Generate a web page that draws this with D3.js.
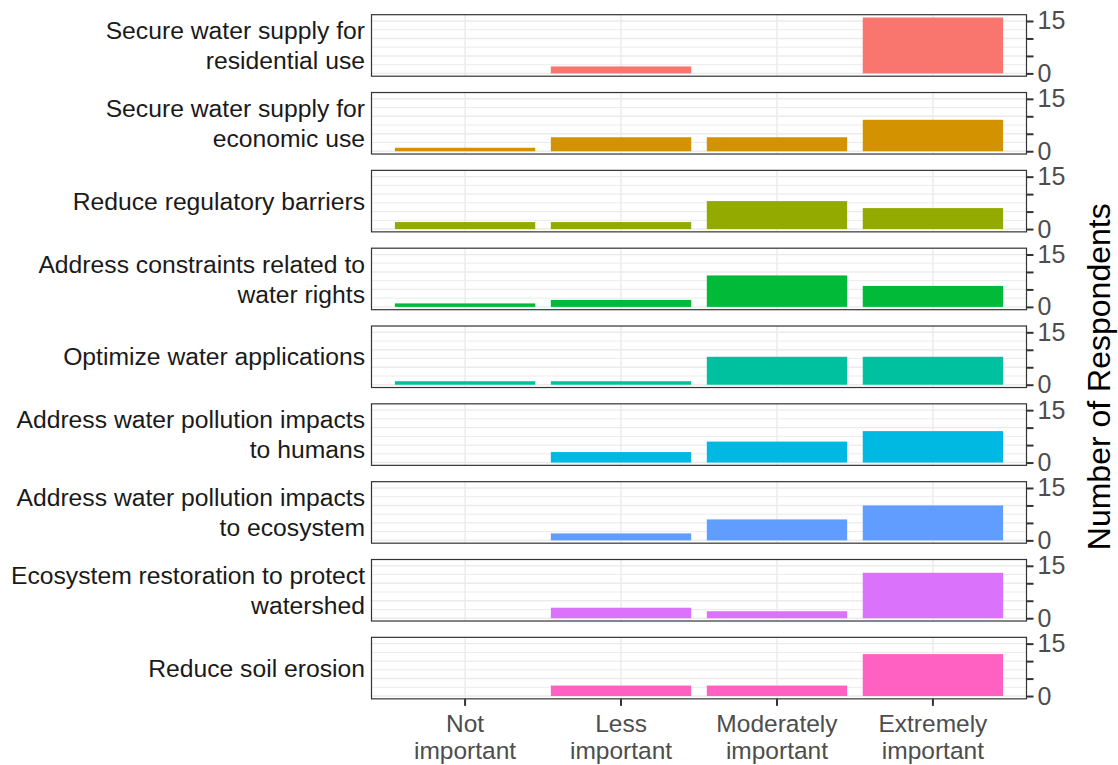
<!DOCTYPE html>
<html>
<head>
<meta charset="utf-8">
<script src="https://cdn.jsdelivr.net/npm/d3@7"></script>
<style>
  html, body { margin: 0; padding: 0; background: #fff; }
  svg { display: block; font-family: "Liberation Sans", Arial, Helvetica, sans-serif; }
</style>
</head>
<body>
<svg id="chart" width="1118" height="765"></svg>
<script>
// ---------- data ----------
const categories = ["Not important", "Less important", "Moderately important", "Extremely important"];
const categoryLabels = [["Not", "important"], ["Less", "important"], ["Moderately", "important"], ["Extremely", "important"]];
const facetLabels = [
  ["Secure water supply for", "residential use"],
  ["Secure water supply for", "economic use"],
  ["Reduce regulatory barriers"],
  ["Address constraints related to", "water rights"],
  ["Optimize water applications"],
  ["Address water pollution impacts", "to humans"],
  ["Address water pollution impacts", "to ecosystem"],
  ["Ecosystem restoration to protect", "watershed"],
  ["Reduce soil erosion"]
];
const residentialUse   = [0, 2, 0, 16];
const economicUse      = [1, 4, 4, 9];
const regulatory       = [2, 2, 8, 6];
const waterRights      = [1, 2, 9, 6];
const optimizeApps     = [1, 1, 8, 8];
const pollutionHumans  = [0, 3, 6, 9];
const pollutionEco     = [0, 2, 6, 10];
const restoration      = [0, 3, 2, 13];
const soilErosion      = [0, 3, 3, 12];
const seriesValues = [residentialUse, economicUse, regulatory, waterRights, optimizeApps,
                      pollutionHumans, pollutionEco, restoration, soilErosion];
const facetColors = ["#F8766D", "#D39200", "#93AA00", "#00BA38", "#00C19F", "#00B9E3", "#619CFF", "#DB72FB", "#FF61C3"];
const yTickValues = [0, 5, 10, 15];
const yTickLabels = ["0", "", "", "15"];
const yMinorValues = [2.5, 7.5, 12.5];
const yTitle = "Number of Respondents";

// ---------- layout ----------
const svg = d3.select("#chart");
const panelLeft = 371.5, panelRight = 1026.5;
const firstTop = 14.7, pitch = 77.83, panelH = 61.5;
const stripFont = 24.7, axisFont = 25, xLabelFont = 24.5, titleFont = 32;

const x = d3.scaleBand().domain(categories).range([panelLeft, panelRight])
  .paddingInner(0.1).paddingOuter(0.15);
const yMax = d3.max(seriesValues.flat());
const yDomain = [-0.05 * yMax, 1.05 * yMax];

seriesValues.forEach((vals, i) => {
  const top = firstTop + i * pitch;
  const bottom = top + panelH;
  const y = d3.scaleLinear().domain(yDomain).range([bottom, top]);
  const g = svg.append("g");

  // panel background
  g.append("rect").attr("x", panelLeft).attr("y", top)
    .attr("width", panelRight - panelLeft).attr("height", panelH).attr("fill", "#fff");

  // grid lines
  g.selectAll(".minor").data(yMinorValues).join("line")
    .attr("x1", panelLeft).attr("x2", panelRight)
    .attr("y1", d => y(d)).attr("y2", d => y(d))
    .attr("stroke", "#EBEBEB").attr("stroke-width", 1);
  g.selectAll(".major").data(yTickValues).join("line")
    .attr("x1", panelLeft).attr("x2", panelRight)
    .attr("y1", d => y(d)).attr("y2", d => y(d))
    .attr("stroke", "#EBEBEB").attr("stroke-width", 1.4);
  g.selectAll(".vmajor").data(categories).join("line")
    .attr("x1", d => x(d) + x.bandwidth() / 2).attr("x2", d => x(d) + x.bandwidth() / 2)
    .attr("y1", top).attr("y2", bottom)
    .attr("stroke", "#EBEBEB").attr("stroke-width", 1.4);

  // bars
  const data = categories.map((c, k) => ({ c, v: vals[k] })).filter(d => d.v > 0);
  g.selectAll(".bar").data(data).join("rect")
    .attr("x", d => x(d.c)).attr("width", x.bandwidth())
    .attr("y", d => y(d.v)).attr("height", d => y(0) - y(d.v))
    .attr("fill", facetColors[i]);

  // panel border
  g.append("rect").attr("x", panelLeft).attr("y", top)
    .attr("width", panelRight - panelLeft).attr("height", panelH)
    .attr("fill", "none").attr("stroke", "#333333").attr("stroke-width", 1.2);

  // right y axis
  const ax = g.append("g").attr("transform", `translate(${panelRight},0)`)
    .call(d3.axisRight(y).tickValues(yTickValues).tickSize(7).tickPadding(4)
      .tickFormat((d, k) => yTickLabels[k]));
  ax.select(".domain").remove();
  ax.selectAll(".tick line").attr("stroke", "#333333").attr("stroke-width", 2);
  ax.selectAll(".tick text").attr("fill", "#4D4D4D").style("font-size", axisFont + "px")
    .style("font-family", "'Liberation Sans', Arial, sans-serif");

  // strip label on the left
  const lines = facetLabels[i];
  const center = top + panelH / 2;
  const lineGap = 30;
  const t = g.append("text").attr("text-anchor", "end").attr("fill", "#1A1A1A")
    .style("font-size", stripFont + "px");
  lines.forEach((ln, k) => {
    t.append("tspan").attr("x", 365)
      .attr("y", center + 8.6 + (k - (lines.length - 1) / 2) * lineGap)
      .text(ln);
  });

  // bottom x axis on last panel
  if (i === seriesValues.length - 1) {
    const xa = g.append("g").attr("transform", `translate(0,${bottom})`)
      .call(d3.axisBottom(x).tickSize(7).tickFormat(""));
    xa.select(".domain").remove();
    xa.selectAll(".tick line").attr("stroke", "#333333").attr("stroke-width", 2);
    categories.forEach((c, k) => {
      categoryLabels[k].forEach((ln, j) => {
        g.append("text").attr("text-anchor", "middle").attr("fill", "#4D4D4D")
          .style("font-size", xLabelFont + "px")
          .attr("x", x(c) + x.bandwidth() / 2)
          .attr("y", bottom + 33 + j * 27).text(ln);
      });
    });
  }
});

// y-axis title on the right
const lastBottom = firstTop + (seriesValues.length - 1) * pitch + panelH;
svg.append("text")
  .attr("transform", `translate(1110,${(firstTop + lastBottom) / 2 + 20}) rotate(-90)`)
  .attr("text-anchor", "middle").attr("fill", "#000")
  .style("font-size", titleFont + "px")
  .text(yTitle);
</script>
</body>
</html>
